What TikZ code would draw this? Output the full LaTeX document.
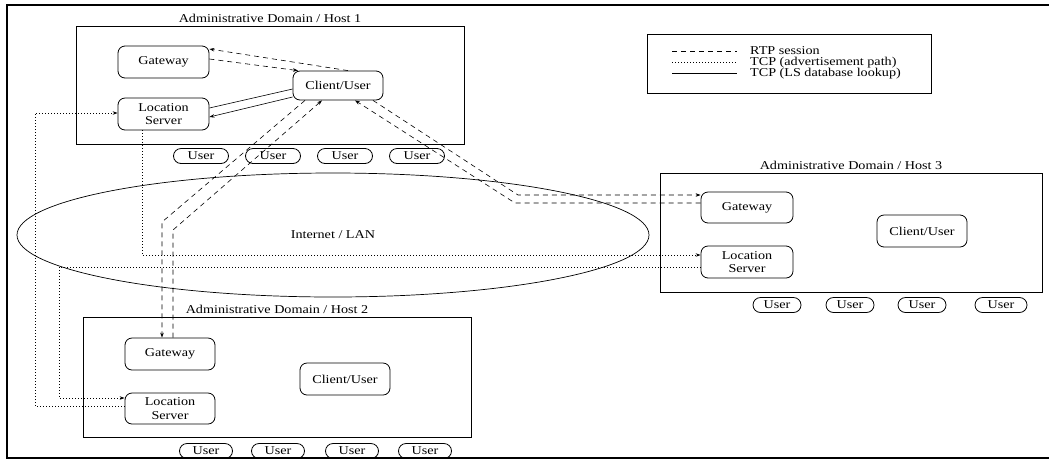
\documentclass[tikz,border=0pt]{standalone}
\usepackage{fontspec}
\setmainfont{Liberation Serif}[FakeStretch=1.18]
\usetikzlibrary{shapes.geometric,arrows.meta}
\tikzset{
  box/.style={draw, rounded corners=7pt, minimum width=91pt, minimum height=32pt, align=center, inner sep=0pt, line width=0.8pt},
  userbox/.style={draw, rounded corners=7.5pt, minimum width=55pt, minimum height=15pt, inner sep=0pt, line width=0.8pt},
  domainbox/.style={draw, line width=0.9pt, inner sep=0pt},
  dtitle/.style={anchor=south, inner sep=2.5pt},
  tip/.style={-{Stealth[length=5pt,width=3.5pt]}},
  rtp/.style={line width=0.6pt, dash pattern=on 5pt off 4pt},
  adv/.style={line width=0.7pt, dash pattern=on 0.8pt off 2.2pt},
  lookup/.style={line width=0.6pt},
  frameline/.style={line width=1.6pt}
}
\begin{document}
\begin{tikzpicture}[x=1pt, y=-1pt, font=\fontsize{12}{13.5}\selectfont]
\useasboundingbox (0,0) rectangle (1049,467);
% outer frame
\draw[frameline] (1049,5) -- (7,5) -- (7,458) -- (1049,458);

% Internet / LAN
\node[draw, ellipse, line width=0.7pt, minimum width=632pt, minimum height=124pt, inner sep=0pt] (net) at (333,235) {Internet / LAN};

% Host 1
\node[domainbox, minimum width=388pt, minimum height=118pt] (h1) at (270,85) {};
\node[dtitle] (t1) at (h1.north) {Administrative Domain / Host 1};
\node[box] (gw1) at (163.5,62) {Gateway};
\node[box] (ls1) at (163.5,114) {Location\\Server};
\node[box, minimum width=90pt, minimum height=29pt] (c1) at (338,85.5) {Client/User};
\node[userbox] (u11) at (201,156) {User};
\node[userbox] (u12) at (273,156) {User};
\node[userbox] (u13) at (345,156) {User};
\node[userbox] (u14) at (417,156) {User};

% Host 2
\node[domainbox, minimum width=388pt, minimum height=120pt] (h2) at (277,377) {};
\node[dtitle] (t2) at (h2.north) {Administrative Domain / Host 2};
\node[box, minimum width=90pt] (gw2) at (170,354) {Gateway};
\node[box, minimum width=90pt, minimum height=31pt] (ls2) at (170,408.5) {Location\\Server};
\node[box, minimum width=90pt] (c2) at (345,379) {Client/User};
\node[userbox, minimum width=53pt] (u21) at (206,451) {User};
\node[userbox, minimum width=53pt] (u22) at (278,451) {User};
\node[userbox, minimum width=53pt] (u23) at (352,451) {User};
\node[userbox, minimum width=53pt] (u24) at (425,451) {User};

% Host 3
\node[domainbox, minimum width=382pt, minimum height=119pt] (h3) at (851,232.5) {};
\node[dtitle] (t3) at (h3.north) {Administrative Domain / Host 3};
\node[box, minimum width=92pt, minimum height=31pt] (gw3) at (747,207.5) {Gateway};
\node[box, minimum width=92pt] (ls3) at (747,262) {Location\\Server};
\node[box, minimum width=90pt] (c3) at (922,231) {Client/User};
\node[userbox, minimum width=48pt] (u31) at (777,305) {User};
\node[userbox, minimum width=48pt] (u32) at (850,305) {User};
\node[userbox, minimum width=48pt] (u33) at (922,305) {User};
\node[userbox, minimum width=52pt] (u34) at (1001,305) {User};

% legend
\node[draw, line width=0.8pt, minimum width=284pt, minimum height=59pt, inner sep=0pt] (leg) at (789,63.5) {};
\coordinate (la1) at (672,51); \coordinate (lb1) at (737,51);
\coordinate (la2) at (672,62); \coordinate (lb2) at (737,62);
\coordinate (la3) at (672,73); \coordinate (lb3) at (737,73);
\draw[rtp] (la1) -- (lb1);
\draw[adv] (la2) -- (lb2);
\draw[lookup] (la3) -- (lb3);
\node[anchor=west, inner sep=0pt, align=left, font=\fontsize{12}{11}\selectfont] (lt) at (750,62.5) {RTP session\\TCP (advertisement path)\\TCP (LS database lookup)};

% bend coordinates
\coordinate (d1b) at (162,222);
\coordinate (d2b) at (173,230);
\coordinate (e1b) at (518,195);
\coordinate (e2b) at (515,203);
\coordinate (bL) at (59,267);
\coordinate (cL) at (35,300);

% RTP sessions, host 1
\draw[rtp, tip] ([xshift=10pt]c1.north) -- ([yshift=13pt]gw1.east);
\draw[rtp, tip] ([yshift=3pt]gw1.east) -- ([xshift=-40pt]c1.north);
% LS lookup
\draw[lookup] ([yshift=-3.5pt]c1.west) -- ([yshift=6pt]ls1.east);
\draw[lookup, tip] ([yshift=-11.5pt]c1.west) -- ([yshift=-3pt]ls1.east);
% RTP host1 <-> host2
\draw[rtp, tip] ([xshift=-33pt]c1.south) -- (d1b) -- ([xshift=-8pt]gw2.north);
\draw[rtp, tip] ([xshift=3pt]gw2.north) -- (d2b) -- ([xshift=-16pt]c1.south);
% RTP host1 <-> host3
\draw[rtp, tip] ([xshift=35pt]c1.south) -- (e1b) -- ([yshift=12.5pt]gw3.west);
\draw[rtp, tip] ([yshift=4.5pt]gw3.west) -- (e2b) -- ([xshift=17pt]c1.south);
% advertisement paths
\draw[adv, tip] ([xshift=-21.5pt]ls1.south) |- ([yshift=7pt]ls3.west);
\draw[adv, tip] ([yshift=-5pt]ls3.west) -- (bL) |- ([yshift=10.5pt]ls2.west);
\draw[adv, tip] ([yshift=2.5pt]ls2.west) -| (cL) |- ([yshift=1pt]ls1.west);
\end{tikzpicture}
\end{document}
